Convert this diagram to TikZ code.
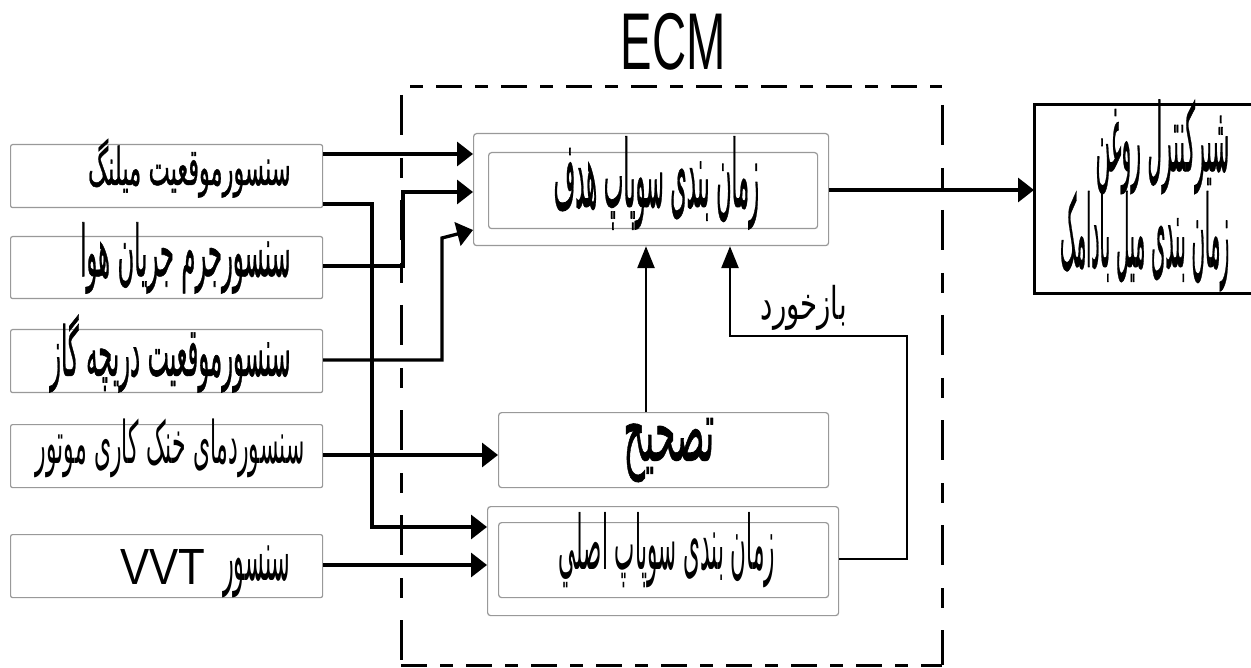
\documentclass[tikz,border=0pt]{standalone}
\usepackage{fontspec}
\usepackage{graphicx}
\setsansfont{Liberation Sans}
\newfontfamily\fafont[Script=Arabic]{DejaVu Sans}
\newfontfamily\fafontb[Script=Arabic,FakeBold=1]{DejaVu Sans}
\TeXXeTstate=1
\usetikzlibrary{arrows.meta}
% #2 = width, #3 = visible height of the glyphs
\newcommand\fa[4][\fafont]{\setbox0=\hbox{\resizebox*{#2pt}{\dimexpr #3pt*137/100\relax}{#1 #4}}%
  \ht0=\dimexpr\ht0-#3pt*37/100\relax\box0}
% plain resize to a total height
\newcommand\fr[4][\fafont]{\resizebox*{#2pt}{#3pt}{#1 #4}}
% move content down without changing its size
\newcommand\movedown[2]{\raisebox{-#1pt}[\height][\depth]{#2}}
\tikzset{
  sensor/.style={draw=gray!80, line width=1.2pt, rounded corners=2pt, minimum width=312pt,
    anchor=north west, inner xsep=32pt, inner ysep=0pt, text width=248pt, align=right},
  frame/.style={draw=gray!80, line width=1.2pt, rounded corners=3pt, anchor=north west, inner sep=0pt},
  conn/.style={line width=3.3pt, -{Triangle[length=16pt,width=24pt]}},
  vconn/.style={line width=2.7pt, -{Triangle[length=22pt,width=17pt]}},
  ecmline/.style={line width=3pt},
}
\begin{document}
\begin{tikzpicture}[x=1pt,y=-1pt]
\useasboundingbox (0,0) rectangle (1251,668);
\clip (0,0) rectangle (1251,668);
\fill[white] (0,0) rectangle (1251,668);

% ECM dashed boundary
\draw[ecmline, dash pattern=on 13pt off 13pt on 26pt off 13pt] (410,87) -- (942,87);
\draw[ecmline, dash pattern=on 40pt off 23pt on 20pt off 22pt] (401,95) -- (401,665);
\draw[ecmline, dash pattern=on 40pt off 23pt on 20pt off 22pt] (942,105) -- (942,665);
\draw[ecmline, dash pattern=on 26pt off 13pt on 13pt off 13pt] (401,665) -- (942,665);
\node[inner sep=0pt] (ecm) at (673.5,41.5) {\resizebox*{105pt}{57pt}{\sffamily ECM}};

% sensors
\node[sensor, minimum height=63pt] (s1) at (10,144) {\fa[\fafontb]{210}{43}{\beginR سنسورموقعیت میلنگ\endR}};
\node[sensor, minimum height=62pt] (s2) at (10,236) {\fa[\fafontb]{218}{52}{\beginR سنسورجرم جریان هوا\endR}};
\node[sensor, minimum height=63pt] (s3) at (10,329) {\movedown{3}{\fa[\fafontb]{248}{57}{\beginR سنسورموقعیت دریچه گاز\endR}}};
\node[sensor, minimum height=63pt, inner xsep=18pt, text width=276pt] (s4) at (10,424) {\fa{276}{43}{\beginR سنسوردمای خنک کاری موتور\endR}};
\node[sensor, minimum height=63pt] (s5) at (10,534) {\movedown{8}{\raisebox{-4pt}{\resizebox*{85pt}{35pt}{\sffamily VVT}}\hspace{10pt}\fa{75}{38}{\beginR سنسور\endR}}};

% ECM blocks
\node[frame, minimum width=355pt, minimum height=112pt] (tgt) at (473,133) {};
\node[frame, minimum width=329pt, minimum height=76pt] (tgti) at (488,152) {\movedown{5}{\fa[\fafontb]{212}{68}{\beginR زمان بندی سوپاپ هدف\endR}}};
\node[frame, minimum width=330pt, minimum height=75pt] (corr) at (498,412) {\fr[\fafontb]{101}{64}{\beginR تصحیح\endR}};
\node[frame, minimum width=351pt, minimum height=109pt] (main) at (487,506) {};
\node[frame, minimum width=330pt, minimum height=75pt] (maini) at (498,522) {\fa{223}{55}{\beginR زمان بندی سوپاپ اصلي\endR}};
\node[inner sep=0pt] (fb) at (799.5,313.5) {\fa{95}{33}{\beginR بازخورد\endR}};

% output valve (right side of its frame lies outside the picture)
\node[anchor=north west, minimum width=240pt, minimum height=188pt, inner sep=0pt] (valve) at (1034,105)
  {\raisebox{0pt}[\dimexpr\height+18pt\relax]{\vbox{\offinterlineskip
     \hbox to 175pt{\hfill\fa[\fafontb]{140}{69}{\beginR شیرکنترل روغن\endR}}%
     \vskip -3pt
     \hbox to 175pt{\hfill\fr[\fafontb]{175}{100}{\beginR زمان بندی میل بادامک\endR}}}}\kern25pt};
\draw[line width=3pt] (valve.north west -| 1251,0) -- (valve.north west) -- (valve.south west) -- (valve.south west -| 1251,0);

% connectors
\draw[conn] (s1.east |- 0,154) -- (tgt.west |- 0,154);
\draw[conn] (s1.east |- 0,204) -- (372,204) -- (372,527) -- (main.west |- 0,527);
\draw[conn] (s2.east |- 0,266) -- (403,266) -- (403,192) -- (tgt.west |- 0,192);
\draw[conn] (s3.east |- 0,360) -- (442,360) -- (442,238) -- (tgt.west |- 0,230);
\draw[conn] (s4.east |- 0,455) -- (corr.west |- 0,455);
\draw[conn] (s5.east |- 0,565) -- (main.west |- 0,565);
\draw[vconn] (corr.north -| 646,0) -- (tgt.south -| 646,0);
\draw[vconn] (main.east |- 0,559) -- (907,559) -- (907,336) -- (730,336) -- (tgt.south -| 730,0);
\draw[conn] (tgt.east |- 0,190) -- (valve.west |- 0,190);
\end{tikzpicture}
\end{document}
